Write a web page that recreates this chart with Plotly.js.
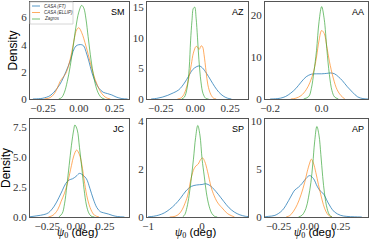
<!DOCTYPE html>
<html>
<head>
<meta charset="utf-8">
<script src="https://cdn.plot.ly/plotly-3.0.1.min.js"></script>
<style>html,body{margin:0;padding:0;background:#fff;}#chart{width:370px;height:242px;}</style>
</head>
<body>
<div id="chart"></div>
<script>
// ---- data ----
const panels = ["SM", "AZ", "AA", "JC", "SP", "AP"];
const seriesNames = ["CASA (FT)", "CASA (ELLIP)", "Zagros"];

// SM
const SM_FT_x = [-0.32,-0.28,-0.25,-0.2,-0.15,-0.12,-0.09,-0.06,-0.04,-0.02,0,0.02,0.035,0.05,0.07,0.09,0.11,0.14,0.17,0.2,0.23,0.26,0.3,0.34];
const SM_FT_y = [0,0.02,0.06,0.25,0.8,1.3,2.0,2.8,3.5,3.9,4.0,4.0,3.9,3.5,2.8,2.0,1.4,0.8,0.5,0.4,0.3,0.15,0.03,0];
const SM_EL_x = [-0.24,-0.2,-0.17,-0.15,-0.13,-0.11,-0.09,-0.07,-0.05,-0.03,-0.015,0,0.02,0.05,0.08,0.1,0.13,0.16,0.19,0.22];
const SM_EL_y = [0,0.1,0.4,0.8,1.3,1.6,1.9,2.5,3.4,4.5,5.1,5.25,4.9,3.9,2.7,1.9,1.0,0.4,0.1,0];
const SM_ZA_x = [-0.14,-0.12,-0.1,-0.08,-0.06,-0.04,-0.02,0,0.02,0.035,0.05,0.065,0.08,0.1,0.12,0.14,0.16,0.18];
const SM_ZA_y = [0,0.1,0.5,1.3,2.4,3.8,5.3,6.4,6.9,6.7,5.9,4.6,3.3,1.9,0.9,0.35,0.08,0];

// AZ
const AZ_FT_x = [-0.32,-0.28,-0.24,-0.2,-0.16,-0.12,-0.08,-0.05,-0.02,0.01,0.03,0.05,0.08,0.11,0.14,0.17,0.2,0.23,0.26];
const AZ_FT_y = [0,0.1,0.3,0.6,1.0,1.5,2.6,3.7,4.8,5.3,5.4,5.1,4.2,3.1,2.0,1.1,0.5,0.15,0];
const AZ_EL_x = [-0.13,-0.11,-0.09,-0.07,-0.05,-0.03,-0.015,0.005,0.015,0.027,0.042,0.052,0.062,0.077,0.09,0.11,0.13,0.15];
const AZ_EL_y = [0,0.1,0.5,1.5,3.2,5.6,7.5,8.6,8.5,8.1,8.7,8.5,7.3,4.5,2.3,0.8,0.15,0];
const AZ_ZA_x = [-0.1,-0.08,-0.06,-0.045,-0.035,-0.025,-0.015,-0.005,0.005,0.015,0.025,0.04,0.055,0.075,0.095];
const AZ_ZA_y = [0,0.3,1.8,5.0,9.5,12.8,14.8,15.0,13.2,10.0,6.5,2.8,0.9,0.1,0];

// AA
const AA_FT_x = [-0.2,-0.18,-0.16,-0.14,-0.12,-0.1,-0.08,-0.06,-0.04,-0.02,0,0.02,0.035,0.05,0.065,0.08,0.1,0.12,0.14,0.16,0.18];
const AA_FT_y = [0,0.05,0.2,0.6,1.4,2.5,4.0,5.3,5.9,6.0,6.0,6.1,6.2,6.0,5.3,4.4,2.9,1.6,0.5,0.1,0];
const AA_EL_x = [-0.12,-0.1,-0.08,-0.06,-0.045,-0.03,-0.02,-0.01,0,0.01,0.02,0.03,0.045,0.06,0.075,0.09];
const AA_EL_y = [0,0.2,0.8,2.2,4.0,6.8,10.0,14.0,16.3,15.6,12.5,9.0,5.0,2.2,0.8,0];
const AA_ZA_x = [-0.07,-0.05,-0.04,-0.03,-0.02,-0.01,0,0.01,0.02,0.03,0.04,0.05,0.065];
const AA_ZA_y = [0,0.6,2.5,6.5,11.5,18.5,22.0,19.0,12.0,5.8,2.0,0.5,0];

// JC
const JC_FT_x = [-0.4,-0.34,-0.28,-0.24,-0.19,-0.15,-0.12,-0.09,-0.06,-0.03,0,0.03,0.06,0.09,0.12,0.15,0.18,0.21,0.24,0.28,0.32,0.36,0.42];
const JC_FT_y = [0.02,0.1,0.2,0.35,0.9,1.6,2.2,2.8,3.1,3.2,3.4,3.65,3.5,3.2,2.4,1.5,0.8,0.45,0.35,0.25,0.12,0.04,0];
const JC_EL_x = [-0.24,-0.2,-0.16,-0.13,-0.1,-0.07,-0.04,-0.02,0.005,0.03,0.05,0.075,0.1,0.13,0.16,0.2];
const JC_EL_y = [0,0.15,0.6,1.3,2.0,3.0,4.3,5.1,5.6,5.2,4.4,2.8,1.5,0.6,0.15,0];
const JC_ZA_x = [-0.15,-0.12,-0.1,-0.08,-0.06,-0.04,-0.02,-0.01,0.01,0.03,0.05,0.07,0.09,0.11,0.13,0.16];
const JC_ZA_y = [0,0.3,1.1,2.6,4.3,6.0,7.3,7.7,7.3,5.8,4.1,2.3,1.0,0.35,0.08,0];

// SP
const SP_FT_x = [-1.0,-0.9,-0.8,-0.7,-0.6,-0.5,-0.4,-0.3,-0.2,-0.1,0,0.07,0.15,0.22,0.3,0.4,0.5,0.6,0.7,0.8,0.85];
const SP_FT_y = [0.01,0.03,0.08,0.17,0.32,0.52,0.78,1.08,1.27,1.33,1.35,1.38,1.3,1.15,0.94,0.65,0.38,0.2,0.09,0.03,0.02];
const SP_EL_x = [-0.6,-0.5,-0.43,-0.37,-0.32,-0.27,-0.2,-0.15,-0.11,-0.07,-0.03,0.01,0.05,0.1,0.17,0.22,0.27,0.32,0.37,0.45,0.5,0.6];
const SP_EL_y = [0,0.03,0.12,0.3,0.55,0.87,1.64,2.0,2.13,2.2,2.38,2.45,2.3,1.9,1.22,0.9,0.66,0.5,0.38,0.18,0.1,0];
const SP_ZA_x = [-0.36,-0.32,-0.28,-0.24,-0.2,-0.16,-0.12,-0.08,-0.04,0,0.04,0.08,0.13,0.18,0.23,0.28];
const SP_ZA_y = [0,0.1,0.4,0.9,1.6,2.4,3.3,3.8,3.4,2.4,1.7,1.0,0.45,0.15,0.03,0];

// AP
const AP_FT_x = [-0.36,-0.33,-0.28,-0.22,-0.17,-0.14,-0.12,-0.09,-0.06,-0.03,0,0.03,0.06,0.085,0.105,0.125,0.145,0.17,0.2,0.25,0.3,0.36,0.42];
const AP_FT_y = [0.02,0.07,0.17,0.7,1.7,2.4,2.8,3.1,3.5,4.0,4.3,4.0,3.2,2.7,2.5,2.1,1.56,1.0,0.52,0.17,0.06,0.02,0];
const AP_EL_x = [-0.19,-0.16,-0.13,-0.1,-0.07,-0.04,-0.02,0.0,0.013,0.03,0.05,0.07,0.09,0.11,0.13,0.15,0.18];
const AP_EL_y = [0,0.15,0.6,1.3,2.3,3.6,4.7,5.6,6.0,5.6,4.6,3.4,2.3,1.3,0.6,0.2,0];
const AP_ZA_x = [-0.09,-0.06,-0.03,-0.01,0.01,0.025,0.04,0.058,0.075,0.09,0.105,0.12,0.14,0.16,0.18];
const AP_ZA_y = [0,0.2,0.9,2.0,3.6,5.5,7.8,9.4,8.5,6.5,4.2,2.4,0.9,0.2,0];

// axis settings
const xRanges = [[-0.34,0.35],[-0.35,0.38],[-0.22,0.18],[-0.40,0.46],[-1.02,0.85],[-0.36,0.47]];
const yRanges = [[0,7.15],[0,15.85],[0,23.1],[0,8.2],[0,4.07],[0,10.18]];
const xTicks = [[-0.25,0,0.25],[-0.25,0,0.25],[-0.2,0],[-0.25,0,0.25],[-1,0],[-0.25,0,0.25]];
const xTickText = [["−0.25","0.00","0.25"],["−0.25","0.00","0.25"],["−0.2","0.0"],["−0.25","0.00","0.25"],["−1","0"],["−0.25","0.00","0.25"]];
const yTicks = [[0,2,4,6],[0,5,10,15],[0,10,20],[0,2.5,5,7.5],[0,2,4],[0,5,10]];
const yTickText = [["0","2","4","6"],["0","5","10","15"],["0","10","20"],["0.0","2.5","5.0","7.5"],["0","2","4"],["0","5","10"]];

const data = {
  SM: [[SM_FT_x,SM_FT_y],[SM_EL_x,SM_EL_y],[SM_ZA_x,SM_ZA_y]],
  AZ: [[AZ_FT_x,AZ_FT_y],[AZ_EL_x,AZ_EL_y],[AZ_ZA_x,AZ_ZA_y]],
  AA: [[AA_FT_x,AA_FT_y],[AA_EL_x,AA_EL_y],[AA_ZA_x,AA_ZA_y]],
  JC: [[JC_FT_x,JC_FT_y],[JC_EL_x,JC_EL_y],[JC_ZA_x,JC_ZA_y]],
  SP: [[SP_FT_x,SP_FT_y],[SP_EL_x,SP_EL_y],[SP_ZA_x,SP_ZA_y]],
  AP: [[AP_FT_x,AP_FT_y],[AP_EL_x,AP_EL_y],[AP_ZA_x,AP_ZA_y]]
};

const colors = ["rgba(31,119,180,0.75)","rgba(255,127,14,0.65)","rgba(44,160,44,0.65)"];

// ---- layout geometry (pixels) ----
const W = 370, H = 242;
const colPx = [[30,129],[147,248],[265,368]];
const rowPx = [[2,99],[119,217]];

const traces = [];
const layout = {
  width: W, height: H,
  margin: {l:0,r:0,t:0,b:0},
  paper_bgcolor: "#fff", plot_bgcolor: "#fff",
  showlegend: false,
  annotations: [], shapes: []
};

const tickFont = {family: "\"Liberation Serif\", \"DejaVu Serif\", serif", size: 11, color: "#333"};

panels.forEach((p, i) => {
  const r = Math.floor(i/3), c = i%3;
  const ax = i === 0 ? "" : String(i+1);
  data[p].forEach((s, k) => {
    traces.push({
      type: "scatter", mode: "lines",
      x: s[0], y: s[1],
      xaxis: "x"+ax, yaxis: "y"+ax,
      name: seriesNames[k],
      line: {color: colors[k], width: 1, shape: "spline", smoothing: 1},
      hoverinfo: "skip"
    });
  });
  const xd = [colPx[c][0]/W, colPx[c][1]/W];
  const yd = [1-rowPx[r][1]/H, 1-rowPx[r][0]/H];
  layout["xaxis"+ax] = {
    domain: xd, range: xRanges[i], anchor: "y"+ax,
    tickvals: xTicks[i], ticktext: xTickText[i],
    showgrid: false, zeroline: false, showline: true, mirror: true,
    linecolor: "#555", linewidth: 1, ticks: "",
    tickfont: tickFont, ticklabeloverflow: "allow", ticklabelstandoff: -1
  };
  layout["yaxis"+ax] = {
    domain: yd, range: yRanges[i], anchor: "x"+ax,
    tickvals: yTicks[i], ticktext: yTickText[i],
    showgrid: false, zeroline: false, showline: true, mirror: true,
    linecolor: "#555", linewidth: 1, ticks: "",
    tickfont: tickFont, ticklabeloverflow: "allow"
  };
  layout.annotations.push({
    xref: "paper", yref: "paper",
    x: (colPx[c][1]-2)/W, y: 1-(rowPx[r][0]+3)/H,
    xanchor: "right", yanchor: "top", showarrow: false,
    text: p, font: {family: "Liberation Sans, Arial, sans-serif", size: 9, color: "#000"}
  });
});

// y labels
const yLabX = [12, 6];
[0,1].forEach(r => {
  layout.annotations.push({
    xref: "paper", yref: "paper",
    x: yLabX[r]/W, y: 1-((rowPx[r][0]+rowPx[r][1])/2)/H,
    xanchor: "center", yanchor: "middle", showarrow: false, textangle: -90,
    text: "Density", font: {family: "Liberation Sans, Arial, sans-serif", size: 12, color: "#000"}
  });
});
// x labels
[0,1,2].forEach(c => {
  layout.annotations.push({
    xref: "paper", yref: "paper",
    x: ((colPx[c][0]+colPx[c][1])/2 - 2)/W, y: 1-242/H,
    xanchor: "center", yanchor: "bottom", showarrow: false,
    text: "<span style=\"font-family:'Liberation Serif',serif\"><i>ψ</i><sub>0</sub></span> (deg)",
    font: {family: "Liberation Sans, Arial, sans-serif", size: 11.5, color: "#000"}
  });
});

// manual small legend in first panel
const lg = {x0: 30, x1: 73, y0: 2, y1: 24};
layout.shapes.push({
  type: "rect", xref: "paper", yref: "paper",
  x0: lg.x0/W, x1: lg.x1/W, y0: 1-lg.y1/H, y1: 1-lg.y0/H,
  line: {color: "#ccc", width: 0.8}, fillcolor: "rgba(255,255,255,0.8)"
});
const legY = [6, 12.5, 19];
seriesNames.forEach((n, k) => {
  layout.shapes.push({
    type: "line", xref: "paper", yref: "paper",
    x0: 32/W, x1: 40/W, y0: 1-legY[k]/H, y1: 1-legY[k]/H,
    line: {color: colors[k], width: 1}
  });
  layout.annotations.push({
    xref: "paper", yref: "paper",
    x: 42/W, y: 1-legY[k]/H, xanchor: "left", yanchor: "middle", showarrow: false,
    text: "<i>"+n+"</i>", font: {family: "Liberation Sans, Arial, sans-serif", size: 4.5, color: "#333"}
  });
});

Plotly.newPlot("chart", traces, layout, {staticPlot: true, displayModeBar: false});
</script>
</body>
</html>
